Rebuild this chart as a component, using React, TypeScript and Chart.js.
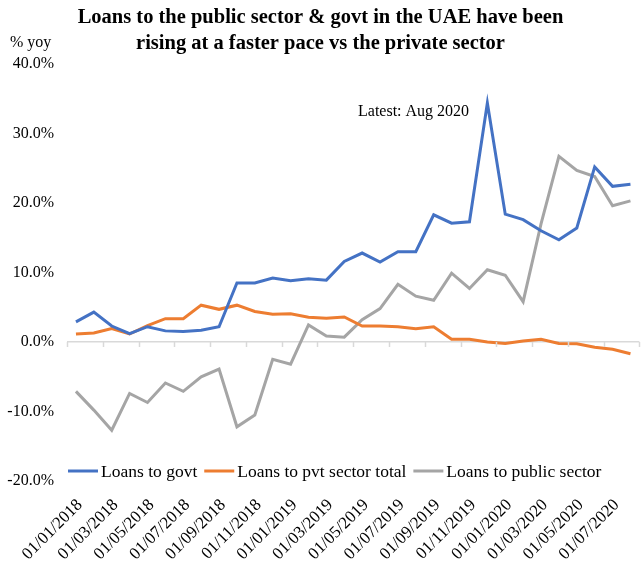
import React, { useEffect, useRef } from "react";
import { Chart, registerables } from "chart.js";

Chart.register(...registerables);

const categories = [
  "01/01/2018", "01/02/2018", "01/03/2018", "01/04/2018", "01/05/2018", "01/06/2018",
  "01/07/2018", "01/08/2018", "01/09/2018", "01/10/2018", "01/11/2018", "01/12/2018",
  "01/01/2019", "01/02/2019", "01/03/2019", "01/04/2019", "01/05/2019", "01/06/2019",
  "01/07/2019", "01/08/2019", "01/09/2019", "01/10/2019", "01/11/2019", "01/12/2019",
  "01/01/2020", "01/02/2020", "01/03/2020", "01/04/2020", "01/05/2020", "01/06/2020",
  "01/07/2020", "01/08/2020",
];

const loansToGovt = [
  2.9, 4.3, 2.3, 1.2, 2.2, 1.6, 1.5, 1.7, 2.2, 8.5, 8.5, 9.2, 8.8, 9.1, 8.9, 11.6,
  12.8, 11.5, 13.0, 13.0, 18.3, 17.1, 17.3, 34.4, 18.4, 17.6, 16.0, 14.7, 16.4, 25.2, 22.4, 22.7,
];

const loansToPvt = [
  1.15, 1.3, 1.95, 1.15, 2.35, 3.35, 3.35, 5.3, 4.7, 5.3, 4.4, 4.0, 4.05, 3.55, 3.4, 3.6,
  2.3, 2.3, 2.2, 1.9, 2.2, 0.4, 0.4, 0.0, -0.2, 0.15, 0.4, -0.2, -0.25, -0.75, -1.05, -1.7,
];

const loansToPublic = [
  -7.1, -9.8, -12.7, -7.4, -8.7, -5.9, -7.1, -5.0, -3.9, -12.2, -10.5, -2.5, -3.2, 2.45, 0.85, 0.7,
  3.2, 4.8, 8.3, 6.6, 6.0, 9.9, 7.7, 10.4, 9.6, 5.8, 17.0, 26.7, 24.7, 23.8, 19.6, 20.3,
];

const seriesNames = ["Loans to govt", "Loans to pvt sector total", "Loans to public sector"];
const seriesColors = ["#4472C4", "#ED7D31", "#A5A5A5"];

const titleLines = [
  "Loans to the public sector & govt in the UAE have been",
  "rising at a faster pace vs the private sector",
];
const yUnitLabel = "% yoy";
const noteText = "Latest: Aug 2020";

const FONT = "'Liberation Serif', 'Times New Roman', serif";

const extrasPlugin = {
  id: "extras",
  afterDatasetsDraw(chart: any) {
    const ctx = chart.ctx;
    const y = chart.scales.y;
    const area = chart.chartArea;
    ctx.save();
    // tick marks under zero line at every second category boundary
    const y0 = y.getPixelForValue(0);
    const n = categories.length;
    const w = (area.right - area.left) / n;
    ctx.strokeStyle = "#d9d9d9";
    ctx.lineWidth = 1.5;
    for (let k = 0; k <= n; k += 2) {
      const px = Math.round(area.left + k * w) + 0.5;
      ctx.beginPath();
      ctx.moveTo(px, y0);
      ctx.lineTo(px, y0 + 5);
      ctx.stroke();
    }
    // legend inside plot
    ctx.font = `17.5px ${FONT}`;
    ctx.textBaseline = "middle";
    ctx.textAlign = "left";
    let lx = 68;
    const ly = 471;
    chart.data.datasets.forEach((ds: any) => {
      ctx.strokeStyle = ds.borderColor;
      ctx.lineWidth = 3;
      ctx.beginPath();
      ctx.moveTo(lx, ly);
      ctx.lineTo(lx + 30, ly);
      ctx.stroke();
      ctx.fillStyle = "#000";
      ctx.fillText(ds.label, lx + 33, ly + 1);
      lx += 33 + ctx.measureText(ds.label).width + 7;
    });
    // unit label and note
    ctx.font = `16px ${FONT}`;
    ctx.fillStyle = "#000";
    ctx.fillText(yUnitLabel, 10, 43);
    ctx.fillText(noteText, 358, 112);
    ctx.restore();
  },
};

export default function App() {
  const ref = useRef<HTMLCanvasElement | null>(null);
  useEffect(() => {
    if (!ref.current) return;
    Chart.defaults.font.family = FONT;
    Chart.defaults.color = "#000";
    const datasets = [loansToGovt, loansToPvt, loansToPublic].map((d, i) => ({
      label: seriesNames[i],
      data: d,
      borderColor: seriesColors[i],
      backgroundColor: seriesColors[i],
      borderWidth: 3,
      pointRadius: 0,
      tension: 0,
      fill: false,
    }));
    const chart = new Chart(ref.current, {
      type: "line",
      data: { labels: categories, datasets },
      options: {
        animation: false,
        responsive: false,
        layout: { padding: 0 },
        plugins: {
          legend: { display: false },
          tooltip: { enabled: false },
          title: {
            display: true,
            text: titleLines,
            color: "#000",
            font: { family: FONT, size: 20.5, weight: "bold", lineHeight: 26 / 20.5 },
            padding: { top: 5, bottom: 7 },
          },
        },
        scales: {
          x: {
            offset: true,
            grid: { display: false, drawTicks: false },
            border: { display: false },
            ticks: {
              autoSkip: false,
              maxRotation: 45,
              minRotation: 45,
              padding: 14,
              labelOffset: 4,
              font: { size: 17 },
              color: "#000",
              callback: (_v: any, i: number) => (i % 2 === 0 ? categories[i] : null),
            },
            afterFit: (s: any) => {
              s.height = 85;
            },
          },
          y: {
            min: -20,
            max: 40,
            ticks: {
              stepSize: 10,
              padding: 13,
              font: { size: 16 },
              color: "#000",
              callback: (v: any) => Number(v).toFixed(1) + "%",
            },
            grid: {
              drawTicks: false,
              lineWidth: 1.5,
              color: (c: any) => (c.tick && c.tick.value === 0 ? "#d9d9d9" : "rgba(0,0,0,0)"),
            },
            border: { display: false },
            afterFit: (s: any) => {
              s.width = 67;
            },
          },
        },
      },
      plugins: [extrasPlugin],
    });
    return () => chart.destroy();
  }, []);
  return (
    <div style={{ position: "absolute", left: 0, top: 0, width: 641, height: 566, background: "#fff" }}>
      <canvas ref={ref} width={641} height={566} />
    </div>
  );
}
